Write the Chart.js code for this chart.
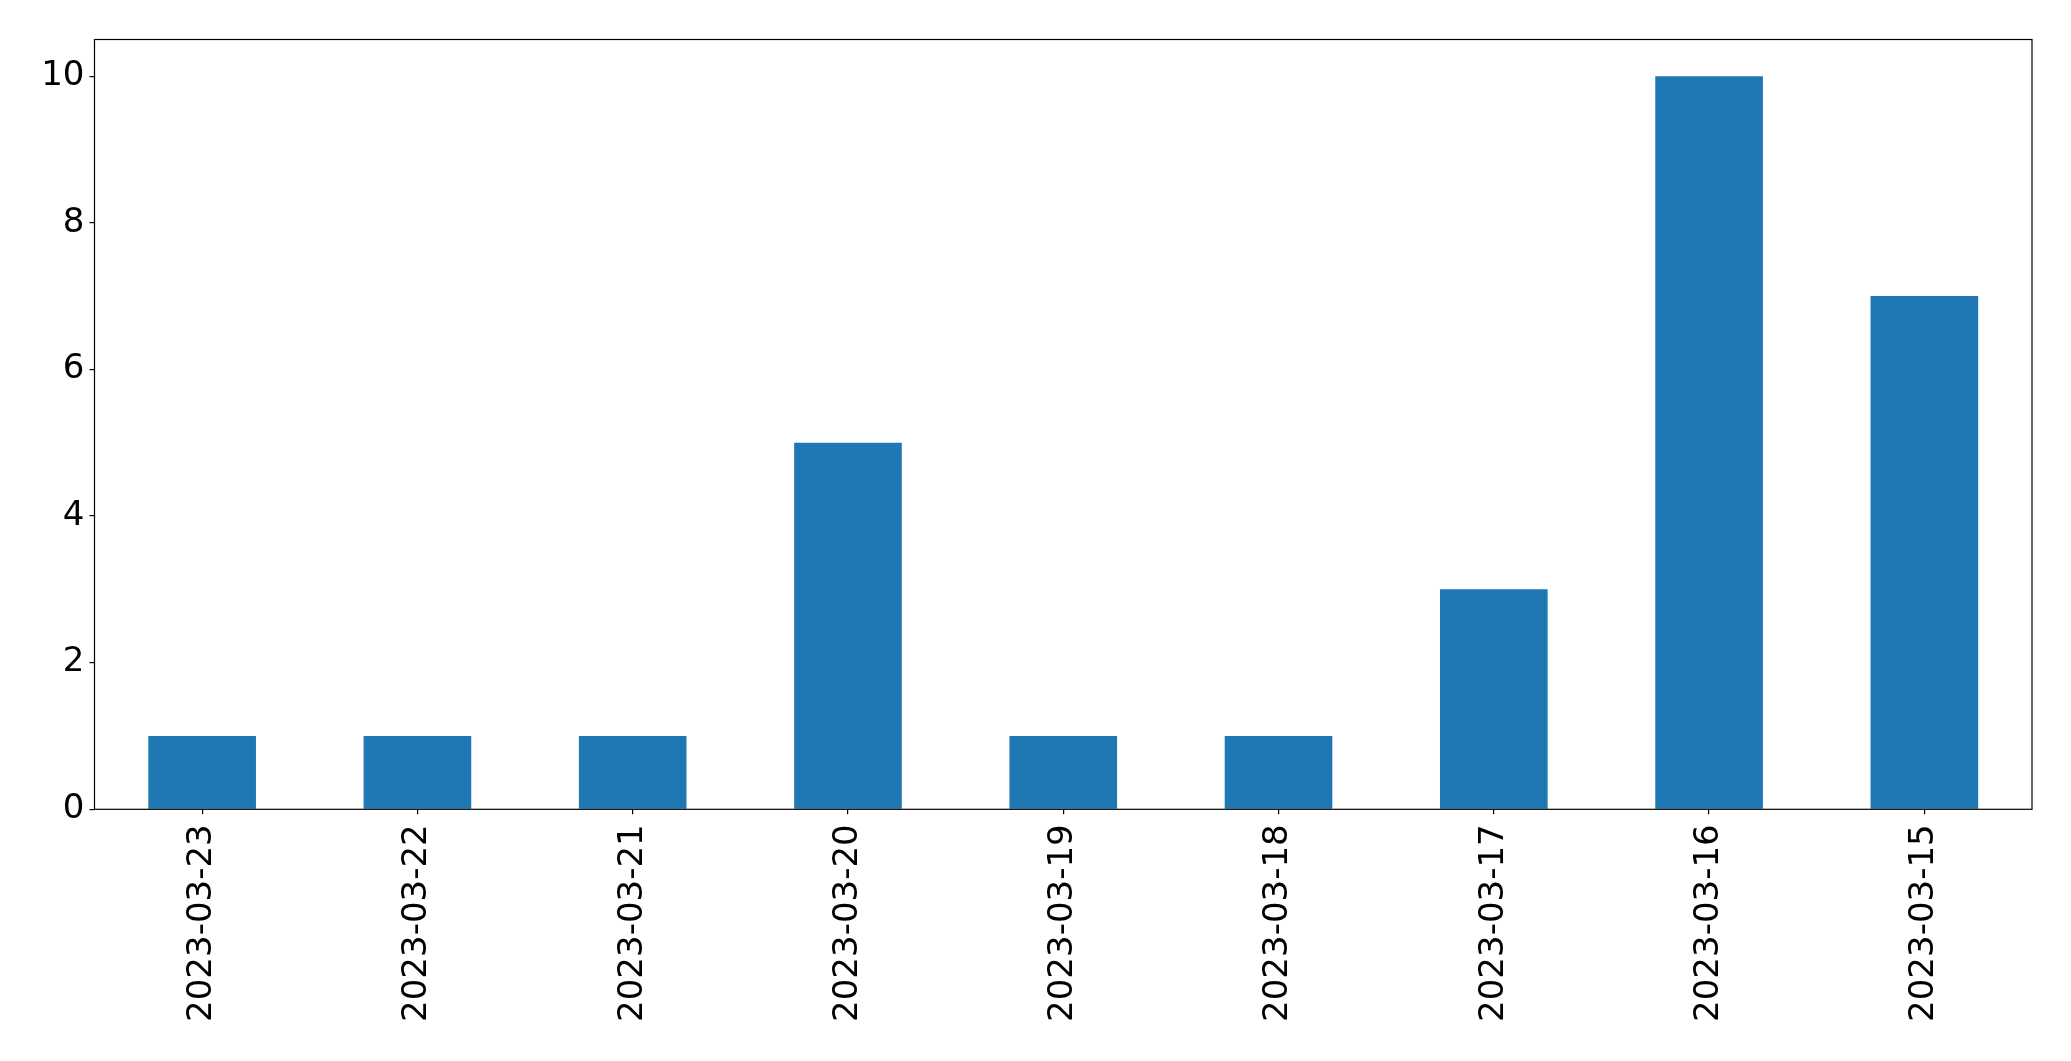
<!DOCTYPE html>
<html>
<head>
<meta charset="utf-8">
<script src="https://cdn.jsdelivr.net/npm/chart.js@4"></script>
<style>
html,body{margin:0;padding:0;background:#fff;}
#wrap{width:2071px;height:1061px;position:relative;}
</style>
</head>
<body>
<div id="wrap"><canvas id="c" width="2071" height="1061"></canvas></div>
<script>
const categories = ["2023-03-23","2023-03-22","2023-03-21","2023-03-20","2023-03-19","2023-03-18","2023-03-17","2023-03-16","2023-03-15"];
const values = [1,1,1,5,1,1,3,10,7];
const yTicks = [0,2,4,6,8,10];

const FONT = {family:"'DejaVu Sans'", size:34};

const frame = {
  id:'frame',
  afterDatasetsDraw(chart){
    const a = chart.chartArea, ctx = chart.ctx;
    ctx.save();
    ctx.strokeStyle='#000';
    ctx.lineWidth=1.2;
    ctx.strokeRect(a.left, a.top, a.right-a.left, a.bottom-a.top);
    ctx.restore();
  }
};

new Chart(document.getElementById('c'), {
  type:'bar',
  data:{labels:categories, datasets:[{data:values, backgroundColor:'#1f77b4', borderWidth:0, categoryPercentage:1, barPercentage:0.5}]},
  options:{
    responsive:false, animation:false,
    layout:{padding:{left:0, top:39.5, right:39, bottom:0}},
    plugins:{legend:{display:false}, tooltip:{enabled:false}},
    scales:{
      x:{
        offset:true,
        grid:{display:true, offset:false, drawOnChartArea:false, drawTicks:true, tickLength:5, color:'#000', lineWidth:1.2},
        border:{display:false},
        ticks:{color:'#000', font:FONT, minRotation:90, maxRotation:90, padding:10, autoSkip:false},
        afterFit(s){ s.height = 1061-809.3; }
      },
      y:{
        min:0, max:10.5,
        grid:{display:true, drawOnChartArea:false, drawTicks:true, tickLength:5, color:'#000', lineWidth:1.2},
        border:{display:false},
        afterBuildTicks(s){ s.ticks = yTicks.map(v=>({value:v})); },
        ticks:{color:'#000', font:FONT, padding:5},
        afterFit(s){ s.width = 94.5; }
      }
    }
  },
  plugins:[frame]
});
</script>
</body>
</html>
